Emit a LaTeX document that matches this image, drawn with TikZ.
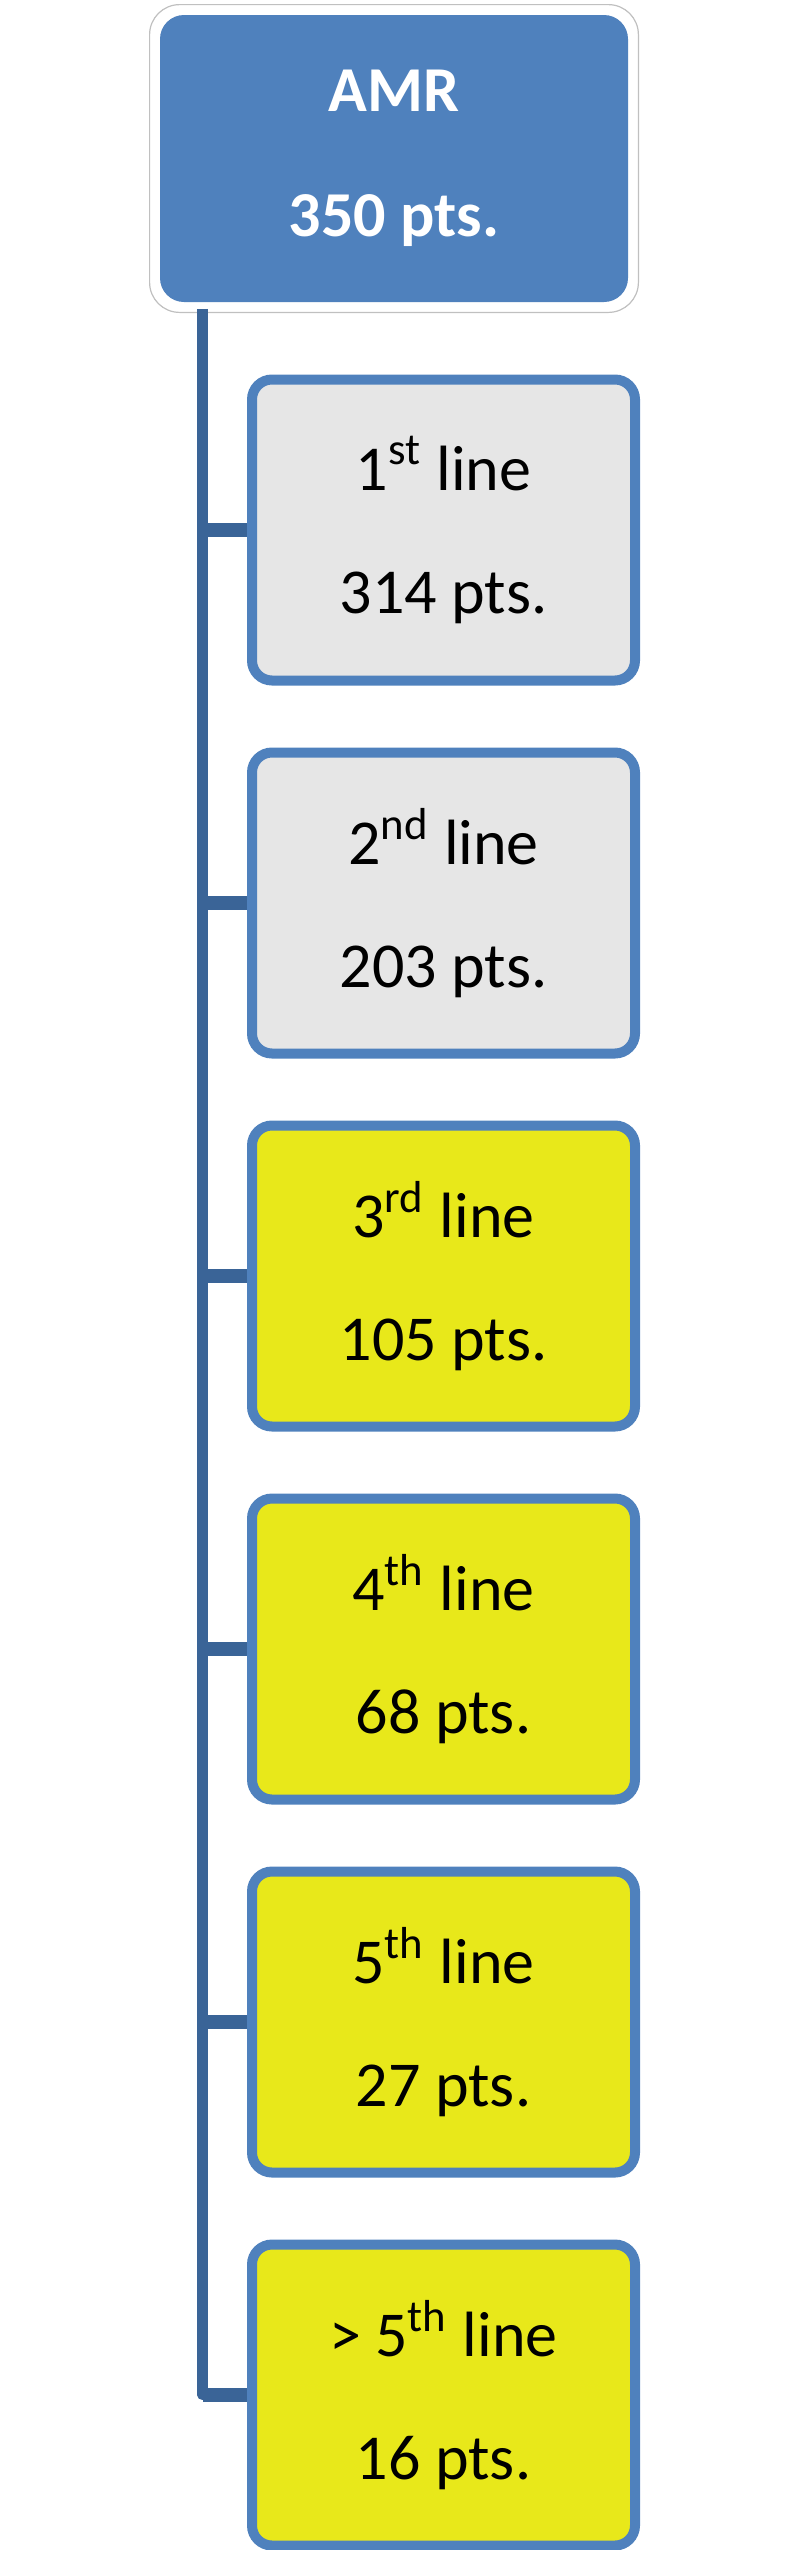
\documentclass[tikz,border=0pt]{standalone}
\usepackage{fontspec}
\setmainfont{Carlito}
\usetikzlibrary{positioning, fit, backgrounds}
\definecolor{azulAMR}{HTML}{4F81BD}
\definecolor{bordeLinea}{HTML}{4F81BD}
\definecolor{conector}{HTML}{3A6497}
\definecolor{grisLinea}{HTML}{E6E6E6}
\definecolor{amarilloLinea}{HTML}{E8E81A}
\definecolor{grisMarco}{HTML}{C0C0C0}

\begin{document}
\begin{tikzpicture}[x=0.25pt, y=-0.25pt,
        amr/.style={fill=azulAMR, rounded corners=6pt, minimum width=117pt, minimum height=71.75pt,
            align=center, text=white, font=\fontsize{16}{31.25}\selectfont\bfseries},
        marco/.style={draw=grisMarco, line width=0.3pt, fill=white, rounded corners=7.5pt, inner sep=2.4pt},
        linea/.style={draw=bordeLinea, line width=2.5pt, rounded corners=5pt, minimum width=95.75pt,
            minimum height=75.25pt, align=center, font=\fontsize{16}{30.75}\selectfont},
        gris/.style={linea, fill=grisLinea},
        amarillo/.style={linea, fill=amarilloLinea},
        tronco/.style={conector, line width=2.7pt, line join=round},
        rama/.style={conector, line width=3.7pt}
    ]
        \useasboundingbox (0,0) rectangle (789,2550);
        \node[amr] (amr) at (394,158.5) {AMR\\350 pts.};
        \begin{scope}[on background layer]
            \node[marco, fit=(amr)] (amrmarco) {};
        \end{scope}
        \node[gris] (l1) at (443.5,530) {1\textsuperscript{st} line\\314 pts.};
        \node[gris, below=15.5pt of l1] (l2) {2\textsuperscript{nd} line\\203 pts.};
        \node[amarillo, below=15.5pt of l2] (l3) {3\textsuperscript{rd} line\\105 pts.};
        \node[amarillo, below=15.5pt of l3] (l4) {4\textsuperscript{th} line\\68 pts.};
        \node[amarillo, below=15.5pt of l4] (l5) {5\textsuperscript{th} line\\27 pts.};
        \node[amarillo, below=15.5pt of l5] (l6) {> 5\textsuperscript{th} line\\16 pts.};

        \coordinate (raiz) at ([xshift=10.9pt, yshift=-1.5pt]amr.south west);
        \begin{scope}[on background layer]
            \draw[tronco] (raiz) |- (l6.west);
            \foreach \n in {1,...,6}
                \draw[rama] (raiz |- l\n.west) -- (l\n.west);
        \end{scope}
    \end{tikzpicture}
\end{document}
